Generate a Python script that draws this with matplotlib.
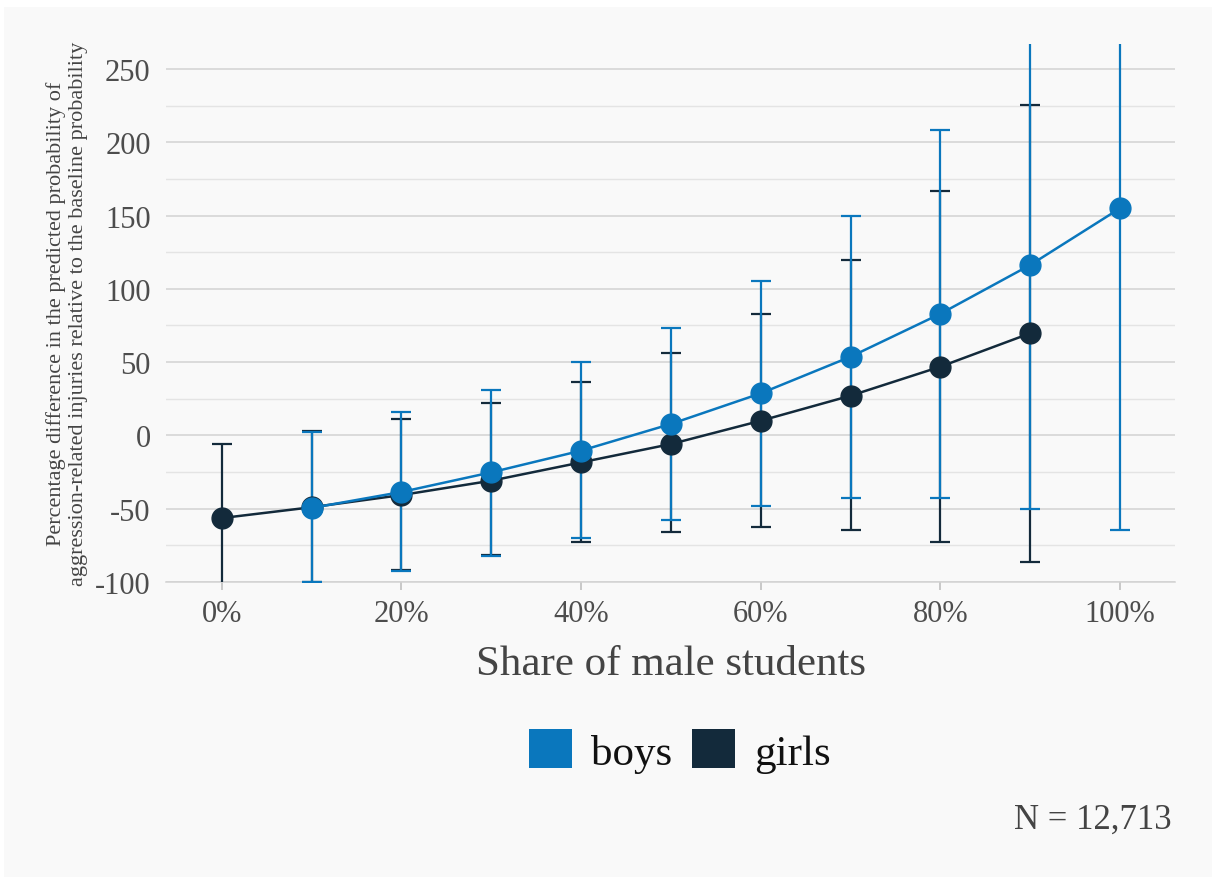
import matplotlib
matplotlib.use("Agg")
import matplotlib.pyplot as plt
from matplotlib.patches import Patch, Rectangle
import numpy as np

plt.rcParams['font.family'] = ['Liberation Serif', 'DejaVu Serif']
plt.rcParams['axes.unicode_minus'] = False

# share of male students (%) and estimates with 95% bounds
boys_x = [10, 20, 30, 40, 50, 60, 70, 80, 90, 100]
boys_y = [-49.5, -38.6, -25.2, -10.4, 7.8, 28.7, 53.7, 83.0, 116.3, 155.0]
boys_lo = [-100.0, -92.3, -82.1, -70.2, -57.7, -48.0, -42.7, -42.9, -50.2, -64.5]
boys_hi = [2.5, 16.0, 31.2, 49.9, 73.1, 105.2, 149.9, 208.4, 320.0, 380.0]

girls_x = [0, 10, 20, 30, 40, 50, 60, 70, 80, 90]
girls_y = [-56.4, -49.0, -40.7, -30.9, -18.4, -5.9, 10.0, 27.1, 46.9, 69.7]
girls_lo = [-115.0, -100.0, -91.6, -81.5, -72.9, -65.7, -62.7, -64.5, -72.5, -86.2]
girls_hi = [-6.0, 3.0, 11.0, 21.9, 36.2, 56.0, 82.8, 119.7, 167.0, 225.4]

x_ticks = [0, 20, 40, 60, 80, 100]
x_labels = ["0%", "20%", "40%", "60%", "80%", "100%"]
y_ticks = [-100, -50, 0, 50, 100, 150, 200, 250]

BLUE = "#0a77bd"
DARK = "#132a3b"
BG = "#f9f9f9"

fig = plt.figure(figsize=(12.12, 8.78), dpi=100)
fig.patch.set_facecolor("white")
fig.patches.append(Rectangle((4 / 1212, 0), 1, 1 - 8 / 878, transform=fig.transFigure,
                             facecolor=BG, edgecolor="none", zorder=-10))

ax = fig.add_axes([166 / 1212, 1 - 583 / 878, (1175 - 166) / 1212, (583 - 45) / 878])
ax.set_facecolor(BG)

def errs(y, lo, hi):
    y = np.array(y)
    return [y - np.array(lo), np.array(hi) - y]

ax.errorbar(girls_x, girls_y, yerr=errs(girls_y, girls_lo, girls_hi), fmt="none",
            ecolor=DARK, elinewidth=1.6, capsize=7.5, capthick=1.6, zorder=3)
ax.errorbar(boys_x, boys_y, yerr=errs(boys_y, boys_lo, boys_hi), fmt="none",
            ecolor=BLUE, elinewidth=1.6, capsize=7.5, capthick=1.6, zorder=3)
ax.plot(girls_x, girls_y, "-o", color=DARK, lw=1.8, markersize=15, zorder=4)
ax.plot(boys_x, boys_y, "-o", color=BLUE, lw=1.8, markersize=15, zorder=5)

ax.set_xlim(-6.2, 106.1)
ax.set_ylim(-100, 267)
ax.set_xticks(x_ticks)
ax.set_xticklabels(x_labels)
ax.set_yticks(y_ticks)
ax.set_yticks([-75, -25, 25, 75, 125, 175, 225], minor=True)
ax.grid(axis="y", which="major", color="#d2d2d2", lw=1.1, zorder=0)
ax.grid(axis="y", which="minor", color="#e4e4e4", lw=1.0, zorder=0)
ax.set_axisbelow(True)

for side in ["top", "right", "left"]:
    ax.spines[side].set_visible(False)
ax.spines["bottom"].set_color("#d2d2d2")
ax.spines["bottom"].set_linewidth(1.1)

ax.tick_params(axis="x", colors="#bbbbbb", length=6, width=1.1, pad=6,
               labelcolor="#4d4d4d", labelsize=22)
ax.tick_params(axis="y", which="both", length=0, pad=11, labelcolor="#4d4d4d", labelsize=22)

ax.set_ylabel("Percentage difference in the predicted probability of\n"
              "aggression-related injuries relative to the baseline probability",
              fontsize=16, color="#444444", labelpad=5, linespacing=1.2)
ax.set_xlabel("Share of male students", fontsize=31, color="#444444", labelpad=12)

handles = [Patch(facecolor=BLUE, edgecolor="none", label="boys"),
           Patch(facecolor=DARK, edgecolor="none", label="girls")]
fig.legend(handles=handles, loc="center", bbox_to_anchor=(680 / 1212, 1 - 752 / 878),
           ncol=2, frameon=False, fontsize=31, handlelength=1.0, handleheight=1.0,
           handletextpad=0.45, columnspacing=0.45, labelcolor="#111111")

fig.text(1172 / 1212, 1 - 820 / 878, "N = 12,713", ha="right", va="center",
         fontsize=25, color="#444444")

fig.savefig("out.png", dpi=100, facecolor=fig.get_facecolor())
